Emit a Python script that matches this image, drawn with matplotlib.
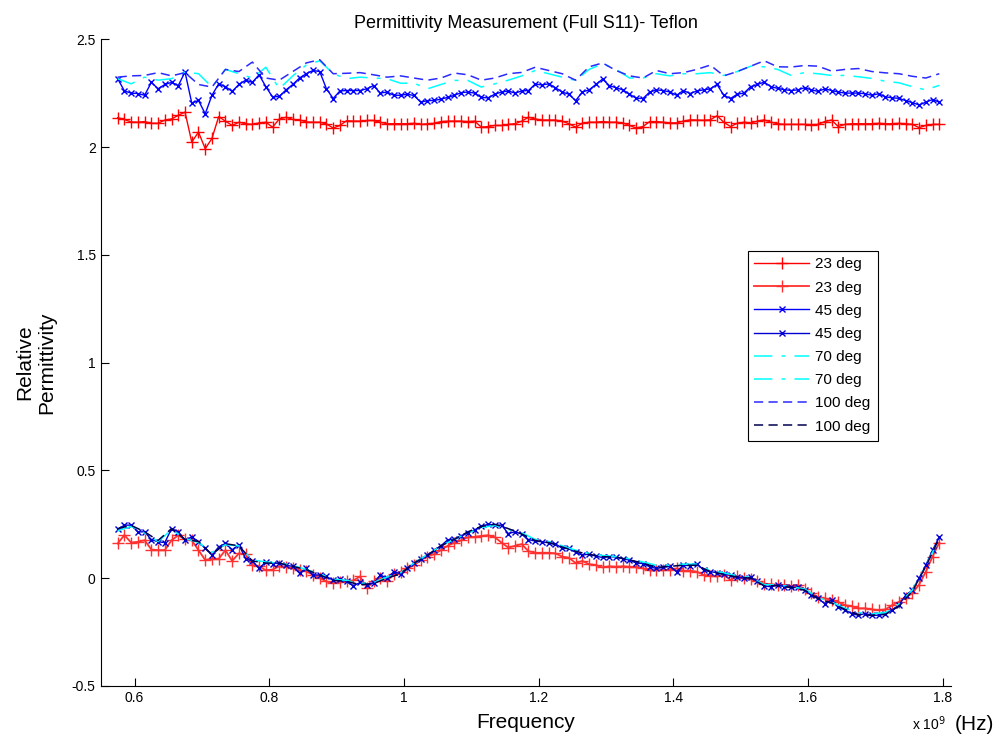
import numpy as np
import matplotlib
matplotlib.use("Agg")
import matplotlib.pyplot as plt

plt.rcParams['font.family'] = ['Liberation Sans', 'DejaVu Sans']

# frequency sweep (Hz), marker series use every point, plain lines every 2nd
freq = np.linspace(0.575e9, 1.795e9, 123)
freq2 = freq[::2]

# 23 deg
red_real = [2.136, 2.128, 2.116, 2.115, 2.118, 2.11, 2.11, 2.125, 2.13, 2.147,
            2.162, 2.023, 2.069, 1.992, 2.04, 2.141, 2.12, 2.10, 2.115, 2.108,
            2.105, 2.112, 2.115, 2.092, 2.13, 2.138, 2.128, 2.126, 2.116, 2.115,
            2.115, 2.107, 2.088, 2.10, 2.122, 2.12, 2.12, 2.123, 2.123, 2.115,
            2.108, 2.108, 2.108, 2.108, 2.11, 2.105, 2.108, 2.11, 2.118, 2.12,
            2.12, 2.12, 2.118, 2.12, 2.092, 2.095, 2.1, 2.1, 2.105, 2.108,
            2.12, 2.138, 2.13, 2.125, 2.125, 2.125, 2.12, 2.108, 2.092, 2.11,
            2.115, 2.115, 2.118, 2.115, 2.115, 2.112, 2.10, 2.088, 2.095, 2.118,
            2.118, 2.115, 2.112, 2.112, 2.12, 2.126, 2.125, 2.124, 2.126, 2.145,
            2.115, 2.095, 2.11, 2.115, 2.112, 2.12, 2.126, 2.115, 2.108, 2.105,
            2.105, 2.105, 2.105, 2.104, 2.105, 2.118, 2.125, 2.095, 2.105, 2.108,
            2.108, 2.108, 2.108, 2.11, 2.108, 2.108, 2.11, 2.108, 2.105, 2.09,
            2.1, 2.105, 2.105]
red_imag = [0.161, 0.20, 0.165, 0.169, 0.176, 0.133, 0.13, 0.13, 0.176, 0.199,
            0.18, 0.176, 0.13, 0.084, 0.091, 0.09, 0.13, 0.08, 0.115, 0.11,
            0.061, 0.055, 0.037, 0.04, 0.055, 0.053, 0.045, 0.037, 0.032, 0.015,
            0.0, -0.015, -0.023, -0.018, -0.015, -0.01, 0.008, -0.046, -0.015, 0.0,
            -0.015, 0.02, 0.03, 0.045, 0.06, 0.084, 0.10, 0.112, 0.13, 0.15,
            0.165, 0.175, 0.19, 0.192, 0.196, 0.199, 0.19, 0.165, 0.142, 0.15,
            0.158, 0.125, 0.118, 0.118, 0.118, 0.115, 0.10, 0.095, 0.07, 0.08,
            0.065, 0.061, 0.05, 0.055, 0.053, 0.055, 0.053, 0.053, 0.045, 0.036,
            0.037, 0.037, 0.04, 0.045, 0.035, 0.035, 0.03, 0.015, 0.012, 0.008,
            0.015, -0.008, 0.008, 0.0, -0.005, -0.015, -0.025, -0.028, -0.031, -0.031,
            -0.036, -0.031, -0.052, -0.071, -0.087, -0.094, -0.10, -0.11, -0.125, -0.13,
            -0.14, -0.14, -0.145, -0.148, -0.145, -0.125, -0.11, -0.09, -0.07, -0.03,
            0.03, 0.1, 0.165]

# 45 deg
blue_real = [2.317, 2.26, 2.25, 2.248, 2.24, 2.30, 2.27, 2.29, 2.30, 2.285,
             2.348, 2.204, 2.216, 2.154, 2.24, 2.293, 2.28, 2.258, 2.29, 2.31,
             2.30, 2.335, 2.28, 2.232, 2.235, 2.265, 2.29, 2.32, 2.34, 2.355,
             2.35, 2.27, 2.225, 2.26, 2.262, 2.262, 2.262, 2.27, 2.285, 2.25,
             2.255, 2.24, 2.24, 2.245, 2.239, 2.208, 2.215, 2.216, 2.222, 2.23,
             2.24, 2.252, 2.255, 2.25, 2.23, 2.228, 2.245, 2.255, 2.26, 2.25,
             2.26, 2.262, 2.292, 2.288, 2.293, 2.275, 2.255, 2.245, 2.215, 2.255,
             2.265, 2.29, 2.315, 2.285, 2.275, 2.265, 2.245, 2.226, 2.225, 2.255,
             2.265, 2.262, 2.255, 2.24, 2.262, 2.248, 2.26, 2.265, 2.27, 2.29,
             2.24, 2.225, 2.245, 2.25, 2.28, 2.29, 2.301, 2.28, 2.272, 2.266,
             2.262, 2.265, 2.275, 2.265, 2.258, 2.27, 2.262, 2.255, 2.25, 2.25,
             2.25, 2.247, 2.24, 2.247, 2.233, 2.228, 2.226, 2.215, 2.206, 2.195,
             2.208, 2.22, 2.208]
blue_imag = [0.226, 0.246, 0.246, 0.215, 0.215, 0.179, 0.169, 0.165, 0.23, 0.215,
             0.175, 0.192, 0.169, 0.138, 0.107, 0.145, 0.161, 0.132, 0.155, 0.091,
             0.08, 0.045, 0.076, 0.068, 0.07, 0.06, 0.055, 0.023, 0.045, 0.015,
             0.015, 0.008, -0.01, -0.005, -0.015, -0.036, -0.02, -0.031, -0.023, 0.015,
             0.0, 0.03, 0.02, 0.045, 0.07, 0.09, 0.107, 0.13, 0.15, 0.178,
             0.18, 0.195, 0.21, 0.224, 0.241, 0.25, 0.245, 0.246, 0.207, 0.215,
             0.205, 0.179, 0.172, 0.169, 0.164, 0.16, 0.138, 0.138, 0.12, 0.107,
             0.112, 0.102, 0.096, 0.1, 0.098, 0.09, 0.084, 0.07, 0.068, 0.053,
             0.045, 0.05, 0.056, 0.03, 0.06, 0.058, 0.068, 0.037, 0.03, 0.026,
             0.019, 0.015, 0.005, 0.0, 0.005, -0.015, -0.036, -0.04, -0.031, -0.04,
             -0.043, -0.043, -0.056, -0.079, -0.094, -0.118, -0.102, -0.133, -0.148, -0.164,
             -0.172, -0.164, -0.172, -0.172, -0.164, -0.148, -0.125, -0.079, -0.056, 0.0,
             0.06, 0.13, 0.19]

# 70 deg
cyan_real = [2.317, 2.293, 2.324, 2.31, 2.317, 2.348, 2.34, 2.278, 2.36, 2.34,
             2.32, 2.37, 2.27, 2.33, 2.38, 2.40, 2.34, 2.317, 2.324, 2.32,
             2.317, 2.296, 2.296, 2.27, 2.29, 2.309, 2.309, 2.278, 2.293, 2.31,
             2.33, 2.355, 2.34, 2.324, 2.309, 2.36, 2.386, 2.36, 2.32, 2.32,
             2.34, 2.33, 2.34, 2.34, 2.345, 2.332, 2.35, 2.375, 2.372, 2.36,
             2.332, 2.345, 2.34, 2.332, 2.332, 2.326, 2.318, 2.305, 2.298, 2.28,
             2.265, 2.286]
cyan_imag = [0.22, 0.24, 0.21, 0.17, 0.225, 0.185, 0.165, 0.12, 0.155, 0.15,
             0.085, 0.075, 0.07, 0.06, 0.04, 0.02, -0.005, -0.01, -0.025, -0.02,
             0.005, 0.025, 0.07, 0.11, 0.15, 0.18, 0.21, 0.235, 0.245, 0.225,
             0.21, 0.18, 0.17, 0.15, 0.13, 0.115, 0.105, 0.1, 0.09, 0.075,
             0.06, 0.06, 0.065, 0.065, 0.035, 0.025, 0.01, 0.005, -0.03, -0.03,
             -0.04, -0.05, -0.09, -0.11, -0.14, -0.16, -0.165, -0.16, -0.12, -0.055,
             0.06, 0.18]

# 100 deg
dash_real = [2.324, 2.33, 2.332, 2.345, 2.33, 2.345, 2.29, 2.278, 2.36, 2.35,
             2.394, 2.32, 2.31, 2.35, 2.39, 2.405, 2.34, 2.342, 2.345, 2.335,
             2.324, 2.33, 2.32, 2.31, 2.32, 2.343, 2.335, 2.31, 2.32, 2.34,
             2.346, 2.37, 2.355, 2.34, 2.31, 2.372, 2.39, 2.355, 2.33, 2.32,
             2.355, 2.34, 2.345, 2.36, 2.38, 2.33, 2.35, 2.375, 2.40, 2.372,
             2.371, 2.378, 2.375, 2.352, 2.36, 2.364, 2.35, 2.344, 2.34, 2.328,
             2.32, 2.34]
dash_imag = [0.23, 0.245, 0.215, 0.175, 0.23, 0.18, 0.17, 0.11, 0.16, 0.15,
             0.08, 0.07, 0.07, 0.055, 0.04, 0.015, -0.01, -0.015, -0.03, -0.025,
             0.0, 0.02, 0.07, 0.105, 0.15, 0.18, 0.215, 0.24, 0.25, 0.23,
             0.205, 0.175, 0.165, 0.145, 0.125, 0.11, 0.1, 0.098, 0.085, 0.07,
             0.05, 0.055, 0.06, 0.06, 0.03, 0.018, 0.005, 0.0, -0.035, -0.035,
             -0.043, -0.055, -0.095, -0.115, -0.145, -0.17, -0.172, -0.168, -0.13, -0.06,
             0.055, 0.185]

x_ticks = [0.6, 0.8, 1.0, 1.2, 1.4, 1.6, 1.8]
x_tick_labels = ['0.6', '0.8', '1', '1.2', '1.4', '1.6', '1.8']
y_ticks = [-0.5, 0, 0.5, 1, 1.5, 2, 2.5]
y_tick_labels = ['-0.5', '0', '0.5', '1', '1.5', '2', '2.5']

fig = plt.figure(figsize=(10.05, 7.4), dpi=100)
ax = fig.add_axes([0.1, 0.073, 0.846, 0.874])

dashdot = (12, 6, 2.5, 6)
dashed = (6, 3.5)

ax.plot(freq, red_real, color='#ff0000', marker='+', markersize=8, lw=1.0, label='23 deg')
ax.plot(freq, red_imag, color='#ff3030', marker='+', markersize=8, lw=1.3, label='23 deg')
ax.plot(freq, blue_real, color='#0000ff', marker='x', markersize=5, lw=1.0, label='45 deg')
ax.plot(freq, blue_imag, color='#0000d0', marker='x', markersize=5, lw=1.0, label='45 deg')
ax.plot(freq2, cyan_real, color='#00ffff', dashes=dashdot, lw=1.1, label='70 deg')
ax.plot(freq2, cyan_imag, color='#00ffff', dashes=dashdot, lw=1.1, label='70 deg')
ax.plot(freq2, dash_real, color='#2a2aff', dashes=dashed, lw=1.1, label='100 deg')
ax.plot(freq2, dash_imag, color='#000050', dashes=dashed, lw=1.1, label='100 deg')

ax.set_xlim(0.5495e9, 1.812e9)
ax.set_ylim(-0.5, 2.5)
ax.set_xticks([t * 1e9 for t in x_ticks])
ax.set_xticklabels(x_tick_labels)
ax.set_yticks(y_ticks)
ax.set_yticklabels(y_tick_labels)
ax.tick_params(direction='in', length=6, labelsize=10, top=False, right=False)
ax.spines['top'].set_visible(False)
ax.spines['right'].set_visible(False)

ax.set_title('Permittivity Measurement (Full S11)- Teflon', fontsize=13, pad=8)
ax.set_xlabel('Frequency', fontsize=15, labelpad=6)
ax.set_ylabel('Relative\nPermittivity', fontsize=15, labelpad=11)
fig.text(0.907, 0.013, r'x 10$^{9}$', fontsize=10)
fig.text(0.950, 0.013, '(Hz)', fontsize=15)

leg = ax.legend(loc='upper left', bbox_to_anchor=(0.752, 0.685), fontsize=11,
                fancybox=False, framealpha=1, edgecolor='black',
                handlelength=3.6, handletextpad=0.4, borderpad=0.45,
                labelspacing=0.6)
leg.get_frame().set_linewidth(0.8)

fig.savefig('out.png', dpi=100)
